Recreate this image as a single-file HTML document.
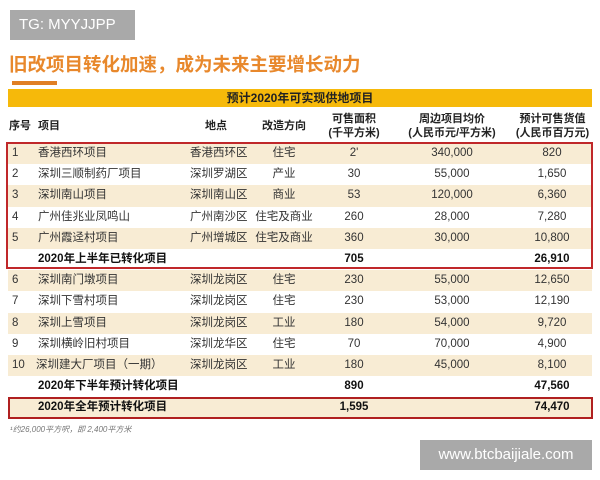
<!DOCTYPE html>
<html><head><meta charset="utf-8"><style>
*{margin:0;padding:0;box-sizing:border-box}
body{width:600px;height:480px;background:#fff;position:relative;overflow:hidden;font-family:"Liberation Sans","Noto Sans CJK SC",sans-serif;color:#333}
.a{position:absolute}
.row{position:absolute;left:8px;width:584px;height:21.2px;font-size:11.5px;line-height:21.2px}
.row span{position:absolute;white-space:nowrap}
.c1{left:4px}.c2{left:30px}.c3{left:182px;width:56px;text-align:center}.c4{left:246px;width:60px;text-align:center}
.c5{left:316px;width:60px;text-align:center}.c6{left:404px;width:80px;text-align:center}.c7{left:514px;width:60px;text-align:center}
.b{background:#f8ecd4}.bold{font-weight:bold;color:#111}
.hd{position:absolute;font-size:11px;font-weight:bold;color:#222;text-align:center;line-height:14px}
</style></head><body>
<div class="a" style="left:10px;top:10px;width:125px;height:30px;background:#a9a9a9;color:#fff;font-size:15px;line-height:30px;padding-left:9px">TG: MYYJJPP</div>
<div class="a" style="left:9px;top:51px;font-size:18.5px;font-weight:bold;color:#e8882c;white-space:nowrap">旧改项目转化加速，成为未来主要增长动力</div>
<div class="a" style="left:12px;top:81px;width:45px;height:4px;background:#e07f25"></div>
<div class="a" style="left:8px;top:89px;width:584px;height:18px;background:#f6b90a;text-align:center;font-size:12px;font-weight:bold;line-height:18px;color:#222">预计2020年可实现供地项目</div>
<div class="hd" style="left:9px;top:119px">序号</div>
<div class="hd" style="left:38px;top:119px">项目</div>
<div class="hd" style="left:205px;top:119px">地点</div>
<div class="hd" style="left:262px;top:119px">改造方向</div>
<div class="hd" style="left:324px;top:112px;width:60px">可售面积<br>(千平方米)</div>
<div class="hd" style="left:402px;top:112px;width:100px">周边项目均价<br>(人民币元/平方米)</div>
<div class="hd" style="left:505px;top:112px;width:95px">预计可售货值<br>(人民币百万元)</div>

<div class="row b" style="top:143px"><span class="c1">1</span><span class="c2">香港西环项目</span><span class="c3">香港西环区</span><span class="c4">住宅</span><span class="c5">2'</span><span class="c6">340,000</span><span class="c7">820</span></div>
<div class="row" style="top:164.2px"><span class="c1">2</span><span class="c2">深圳三顺制药厂项目</span><span class="c3">深圳罗湖区</span><span class="c4">产业</span><span class="c5">30</span><span class="c6">55,000</span><span class="c7">1,650</span></div>
<div class="row b" style="top:185.4px"><span class="c1">3</span><span class="c2">深圳南山项目</span><span class="c3">深圳南山区</span><span class="c4">商业</span><span class="c5">53</span><span class="c6">120,000</span><span class="c7">6,360</span></div>
<div class="row" style="top:206.6px"><span class="c1">4</span><span class="c2">广州佳兆业凤鸣山</span><span class="c3">广州南沙区</span><span class="c4">住宅及商业</span><span class="c5">260</span><span class="c6">28,000</span><span class="c7">7,280</span></div>
<div class="row b" style="top:227.8px"><span class="c1">5</span><span class="c2">广州霞迳村项目</span><span class="c3">广州增城区</span><span class="c4">住宅及商业</span><span class="c5">360</span><span class="c6">30,000</span><span class="c7">10,800</span></div>
<div class="row bold" style="top:249px"><span class="c2">2020年上半年已转化项目</span><span class="c5">705</span><span class="c7">26,910</span></div>
<div class="row b" style="top:270.2px"><span class="c1">6</span><span class="c2">深圳南门墩项目</span><span class="c3">深圳龙岗区</span><span class="c4">住宅</span><span class="c5">230</span><span class="c6">55,000</span><span class="c7">12,650</span></div>
<div class="row" style="top:291.4px"><span class="c1">7</span><span class="c2">深圳下雪村项目</span><span class="c3">深圳龙岗区</span><span class="c4">住宅</span><span class="c5">230</span><span class="c6">53,000</span><span class="c7">12,190</span></div>
<div class="row b" style="top:312.6px"><span class="c1">8</span><span class="c2">深圳上雪项目</span><span class="c3">深圳龙岗区</span><span class="c4">工业</span><span class="c5">180</span><span class="c6">54,000</span><span class="c7">9,720</span></div>
<div class="row" style="top:333.8px"><span class="c1">9</span><span class="c2">深圳横岭旧村项目</span><span class="c3">深圳龙华区</span><span class="c4">住宅</span><span class="c5">70</span><span class="c6">70,000</span><span class="c7">4,900</span></div>
<div class="row b" style="top:355px"><span class="c1">10</span><span class="c2" style="left:28px">深圳建大厂项目（一期）</span><span class="c3">深圳龙岗区</span><span class="c4">工业</span><span class="c5">180</span><span class="c6">45,000</span><span class="c7">8,100</span></div>
<div class="row bold" style="top:376.2px"><span class="c2">2020年下半年预计转化项目</span><span class="c5">890</span><span class="c7">47,560</span></div>
<div class="row b bold" style="top:397.4px"><span class="c2">2020年全年预计转化项目</span><span class="c5">1,595</span><span class="c7">74,470</span></div>

<div class="a" style="left:6px;top:142px;width:587px;height:127px;border:2px solid #c0282a"></div>
<div class="a" style="left:8px;top:397px;width:585px;height:22px;border:2px solid #b02020"></div>
<div class="a" style="left:10px;top:424px;font-size:8px;font-style:italic;color:#777">¹约26,000平方呎，即 2,400平方米</div>
<div class="a" style="left:420px;top:440px;width:172px;height:30px;background:#a9a9a9;color:#fff;font-size:15px;line-height:30px;text-align:center">www.btcbaijiale.com</div>
</body></html>
